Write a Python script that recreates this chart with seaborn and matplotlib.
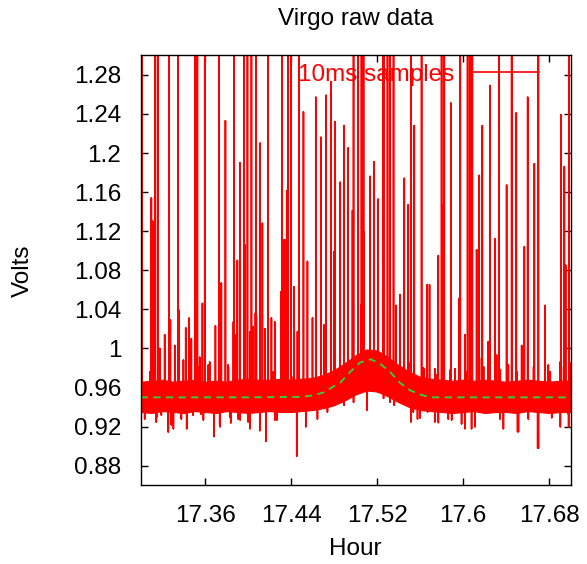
import numpy as np
import matplotlib
matplotlib.use("Agg")
import matplotlib.pyplot as plt
import seaborn as sns

# dense noise band (core of the 10ms trace), read every 0.01 h
band_hour = [17.30, 17.31, 17.32, 17.33, 17.34, 17.35, 17.36, 17.37, 17.38, 17.39,
             17.40, 17.41, 17.42, 17.43, 17.44, 17.45, 17.46, 17.47, 17.48, 17.49,
             17.50, 17.51, 17.52, 17.53, 17.54, 17.55, 17.56, 17.57, 17.58, 17.59,
             17.60, 17.61, 17.62, 17.63, 17.64, 17.65, 17.66, 17.67, 17.68, 17.69, 17.70]
band_hi = [0.966, 0.967, 0.968, 0.966, 0.967, 0.968, 0.966, 0.967, 0.966, 0.968,
           0.969, 0.968, 0.968, 0.969, 0.968, 0.969, 0.970, 0.973, 0.978, 0.985,
           0.993, 0.999, 0.998, 0.991, 0.983, 0.976, 0.971, 0.969, 0.968, 0.967,
           0.968, 0.967, 0.968, 0.967, 0.966, 0.967, 0.968, 0.967, 0.966, 0.967, 0.967]
band_lo = [0.935, 0.934, 0.936, 0.935, 0.934, 0.936, 0.935, 0.934, 0.936, 0.935,
           0.934, 0.935, 0.936, 0.935, 0.935, 0.936, 0.937, 0.939, 0.942, 0.947,
           0.953, 0.957, 0.956, 0.951, 0.945, 0.940, 0.937, 0.936, 0.935, 0.934,
           0.935, 0.936, 0.934, 0.935, 0.935, 0.934, 0.936, 0.935, 0.934, 0.935, 0.935]

# upward spikes (1.40 = off the top of the plot)
spike_hour = [17.3012, 17.3136, 17.3161, 17.3263, 17.3347, 17.3508, 17.3527, 17.3596,
              17.3729, 17.3869, 17.3962, 17.3993, 17.4030, 17.4071, 17.4185, 17.4316,
              17.4372, 17.4397, 17.4471, 17.4980, 17.5023, 17.5054, 17.5073, 17.5253,
              17.5265, 17.5296, 17.5321, 17.5352, 17.5514, 17.5613, 17.5799, 17.5824,
              17.5973, 17.6041, 17.6066, 17.6085, 17.6333, 17.6451, 17.6699, 17.6985,
              17.3099, 17.3112, 17.3788, 17.3922, 17.3968, 17.4111, 17.4132, 17.4334,
              17.4304, 17.3899, 17.3223, 17.3357, 17.3450, 17.3419, 17.3574, 17.3695,
              17.3750, 17.3862, 17.4046, 17.4216, 17.4067, 17.3276,
              17.4359, 17.4514, 17.4629, 17.4676, 17.4725, 17.4769, 17.4806, 17.4856,
              17.4893, 17.4930, 17.5135, 17.5172, 17.5452, 17.5489, 17.5545, 17.5663,
              17.4341, 17.4551, 17.4427, 17.4800, 17.4970, 17.5079, 17.5209, 17.5374,
              17.5414, 17.4707, 17.4458, 17.4598, 17.5048, 17.5638,
              17.5886, 17.6250, 17.6178, 17.6147, 17.6404, 17.6494, 17.6600, 17.6662,
              17.6911, 17.6941, 17.5815, 17.5768, 17.6125, 17.6296, 17.6569, 17.5687,
              17.5961, 17.6762, 17.6953, 17.6234,
              17.3177, 17.3317, 17.3471, 17.3549, 17.3642, 17.3813, 17.3875, 17.4015,
              17.4076, 17.4155, 17.4248, 17.5737, 17.5924, 17.6017, 17.6171, 17.6311,
              17.6420, 17.6544, 17.6792, 17.6901, 17.6994,
              17.3087, 17.3180, 17.3273, 17.3397, 17.3536, 17.3629, 17.3816, 17.3894,
              17.4018, 17.4111, 17.4235, 17.4328, 17.4421, 17.5507, 17.5631, 17.5755,
              17.5880, 17.6035, 17.6190, 17.6345, 17.6500, 17.6655, 17.6810, 17.6935]
spike_volt = [1.40, 1.40, 1.40, 1.40, 1.40, 1.40, 1.40, 1.40,
              1.40, 1.40, 1.40, 1.40, 1.40, 1.40, 1.40, 1.40,
              1.40, 1.40, 1.40, 1.40, 1.40, 1.40, 1.40, 1.40,
              1.40, 1.40, 1.40, 1.40, 1.40, 1.40, 1.40, 1.40,
              1.40, 1.40, 1.40, 1.40, 1.40, 1.40, 1.40, 1.40,
              1.154, 1.130, 1.233, 1.190, 1.106, 1.210, 1.128, 1.111,
              1.058, 1.090, 1.014, 1.039, 1.031, 1.021, 1.046, 1.023,
              1.067, 1.027, 1.022, 1.031, 1.036, 1.029,
              1.161, 1.242, 1.257, 1.216, 1.259, 1.273, 1.232, 1.170,
              1.228, 1.205, 1.176, 1.191, 1.174, 1.147, 1.228, 1.065,
              1.111, 1.089, 1.063, 1.099, 1.141, 1.119, 1.153, 1.044,
              1.055, 1.024, 1.017, 1.031, 1.044, 0.979,
              1.251, 1.269, 1.228, 1.177, 1.167, 1.241, 1.257, 1.189,
              1.239, 1.186, 1.147, 1.095, 1.101, 1.112, 1.104, 1.065,
              1.051, 1.044, 1.085, 1.007,
              1.000, 1.003, 1.010, 0.991, 0.986, 0.983, 1.014, 1.017,
              1.034, 1.020, 1.027, 0.979, 0.979, 1.014, 0.990, 0.993,
              0.983, 1.003, 0.983, 0.986, 0.985,
              0.976, 0.980, 0.978, 0.988, 0.981, 0.983, 0.981, 0.971,
              0.975, 0.985, 0.976, 0.981, 0.971, 0.985, 0.980, 0.973,
              0.978, 0.976, 0.981, 0.978, 0.976, 0.981, 0.976, 0.981]

# downward spikes
dip_hour = [17.3037, 17.3145, 17.3192, 17.3254, 17.3285, 17.3378, 17.3487, 17.3559,
            17.3682, 17.3735, 17.3829, 17.3906, 17.3999, 17.4108, 17.4164, 17.4248,
            17.4452, 17.4536, 17.4644, 17.4737, 17.4893, 17.5210, 17.5359, 17.5514,
            17.5575, 17.5669, 17.5737, 17.5861, 17.5985, 17.6078, 17.6110, 17.6234,
            17.6343, 17.6506, 17.6606, 17.6693, 17.6823, 17.6979,
            17.3056, 17.3149, 17.3257, 17.3304, 17.3428, 17.3583, 17.3738, 17.3838,
            17.3925, 17.4018, 17.4111, 17.4167, 17.4266, 17.4359, 17.4980, 17.5104,
            17.5259, 17.5320, 17.5536, 17.5598, 17.5769, 17.5893, 17.6017, 17.6374,
            17.6514, 17.6700, 17.6824, 17.6904, 17.6981]
dip_volt = [0.928, 0.925, 0.932, 0.915, 0.922, 0.928, 0.932, 0.933,
            0.910, 0.922, 0.930, 0.928, 0.925, 0.916, 0.905, 0.927,
            0.890, 0.920, 0.928, 0.935, 0.942, 0.955, 0.942, 0.925,
            0.928, 0.935, 0.925, 0.928, 0.923, 0.918, 0.920, 0.935,
            0.928, 0.915, 0.928, 0.898, 0.930, 0.933,
            0.937, 0.930, 0.915, 0.918, 0.918, 0.927, 0.920, 0.924,
            0.927, 0.918, 0.927, 0.907, 0.927, 0.939, 0.945, 0.937,
            0.949, 0.945, 0.935, 0.929, 0.924, 0.927, 0.918, 0.918,
            0.915, 0.898, 0.929, 0.920, 0.920]

# fitted curve (green dashed)
fit_hour = [17.30, 17.40, 17.45, 17.4607, 17.470, 17.4856, 17.4949, 17.504, 17.514,
            17.5225, 17.532, 17.541, 17.551, 17.560, 17.569, 17.60, 17.70]
fit_volt = [0.950, 0.950, 0.9505, 0.952, 0.955, 0.965, 0.976, 0.9856, 0.989,
            0.9846, 0.976, 0.965, 0.957, 0.953, 0.950, 0.950, 0.950]

sns.set_style("ticks")
plt.rcParams["font.family"] = ["Liberation Sans", "DejaVu Sans"]
plt.rcParams["font.size"] = 17.5
plt.rcParams["text.color"] = "black"
plt.rcParams["axes.labelcolor"] = "black"

fig = plt.figure(figsize=(5.87, 5.64), dpi=100)
ax = fig.add_axes([0.2397, 0.1395, 0.7325, 0.7625])

# 10ms trace: band core plus spikes, joined as one line
band_mid = (np.array(band_hi) + np.array(band_lo)) / 2
ev_x = np.array(spike_hour + dip_hour)
ev_y = np.array(spike_volt + dip_volt)
order = np.argsort(ev_x)
tx, ty = [], []
for i in order:
    b = np.interp(ev_x[i], band_hour, band_mid)
    tx += [ev_x[i], ev_x[i], ev_x[i]]
    ty += [b, ev_y[i], b]

ax.fill_between(band_hour, band_lo, band_hi, color="red", lw=0.8, edgecolor="red")
sns.lineplot(x=tx, y=ty, sort=False, estimator=None, color="red", lw=1.2,
             label="10ms samples", ax=ax)
sns.lineplot(x=fit_hour, y=fit_volt, sort=False, estimator=None, color="#2ed82e",
             lw=1.3, dashes=False, ax=ax)
ax.lines[-1].set_dashes([4, 3])

ax.set_xlim(17.30, 17.70)
ax.set_ylim(0.86, 1.30)
xt = [17.36, 17.44, 17.52, 17.60, 17.68]
yt = [0.88, 0.92, 0.96, 1.00, 1.04, 1.08, 1.12, 1.16, 1.20, 1.24, 1.28]
ax.set_xticks(xt)
ax.set_xticklabels(["%g" % v for v in xt])
ax.set_yticks(yt)
ax.set_yticklabels(["%g" % v for v in yt])
ax.tick_params(direction="in", length=5, width=1, top=True, right=True,
               labelsize=17.5, pad=14, colors="black")
for s in ax.spines.values():
    s.set_visible(True)
    s.set_linewidth(1)
    s.set_color("black")

ax.set_title("Virgo raw data", fontsize=17.5, pad=22, color="black")
ax.set_xlabel("Hour", fontsize=17.5, labelpad=8)
ax.set_ylabel("Volts", fontsize=17.5, labelpad=29)

ax.legend(loc="center right", bbox_to_anchor=(0.9263, 0.9542), frameon=False,
          markerfirst=False, handlelength=2.75, handletextpad=0.75,
          borderpad=0, borderaxespad=0, labelcolor="red", fontsize=17.5)

fig.savefig("out.png", dpi=100)
